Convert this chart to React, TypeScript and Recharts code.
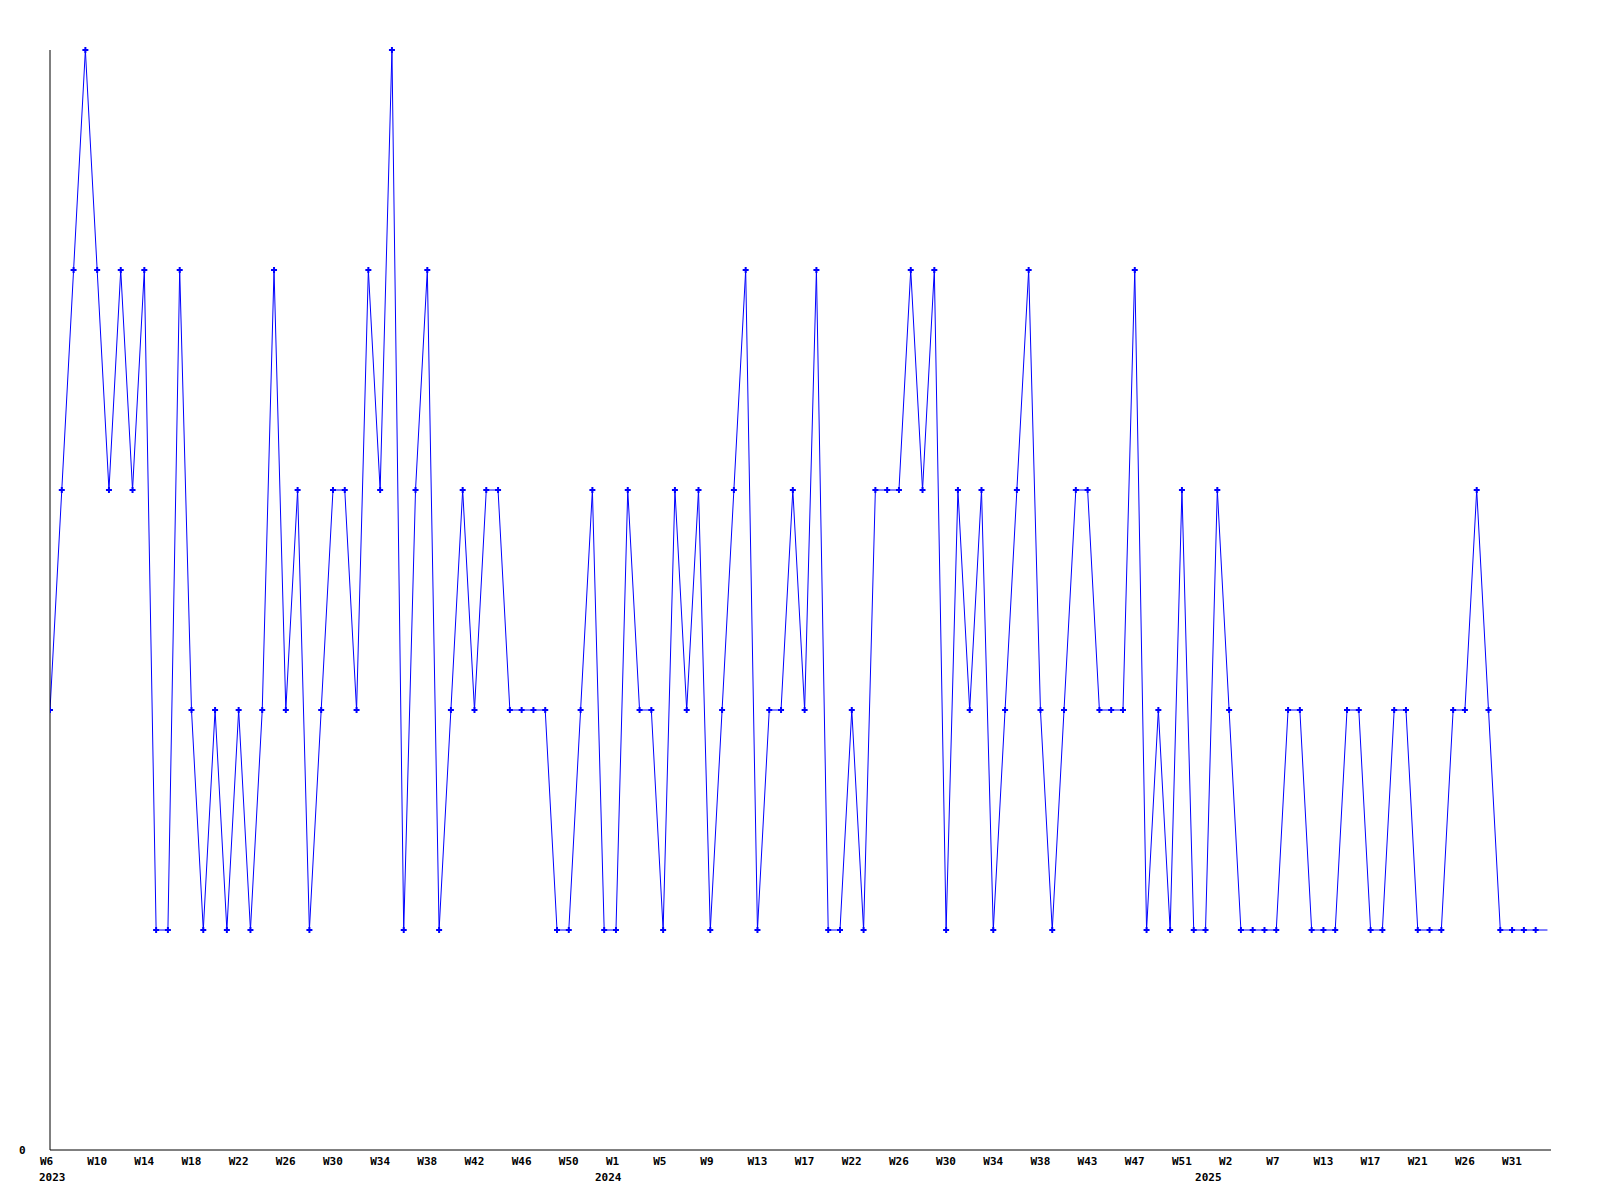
import React from 'react';
import { LineChart, Line, XAxis, YAxis } from 'recharts';

// weekly values, W6 2023 onwards
const VALUES = [
  2, 3, 4, 5, 4, 3, 4, 3, 4, 1,
  1, 4, 2, 1, 2, 1, 2, 1, 2, 4,
  2, 3, 1, 2, 3, 3, 2, 4, 3, 5,
  1, 3, 4, 1, 2, 3, 2, 3, 3, 2,
  2, 2, 2, 1, 1, 2, 3, 1, 1, 3,
  2, 2, 1, 3, 2, 3, 1, 2, 3, 4,
  1, 2, 2, 3, 2, 4, 1, 1, 2, 1,
  3, 3, 3, 4, 3, 4, 1, 3, 2, 3,
  1, 2, 3, 4, 2, 1, 2, 3, 3, 2,
  2, 2, 4, 1, 2, 1, 3, 1, 1, 3,
  2, 1, 1, 1, 1, 2, 2, 1, 1, 1,
  2, 2, 1, 1, 2, 2, 1, 1, 1, 2,
  2, 3, 2, 1, 1, 1, 1,
];
// the line runs on past the last marked week to the edge
const TRAILING = 1;

const TICK_LABELS = [
  'W6', 'W10', 'W14', 'W18', 'W22', 'W26', 'W30', 'W34', 'W38', 'W42', 'W46', 'W50',
  'W1', 'W5', 'W9', 'W13', 'W17', 'W22', 'W26', 'W30', 'W34', 'W38', 'W43', 'W47', 'W51',
  'W2', 'W7', 'W13', 'W17', 'W21', 'W26', 'W31',
];
const TICK_STEP = 4;
const YEARS: Record<number, string> = { 0: '2023', 12: '2024', 25: '2025' };
const YEAR_DX: Record<number, number> = { 0: -11, 12: -21, 25: -34 };

const data = [...VALUES, TRAILING].map((v, i) => ({ i, v }));
const ticks = TICK_LABELS.map((_, k) => k * TICK_STEP);

const FONT = '"DejaVu Sans Mono", monospace';

function WeekTick(props: any) {
  const { x, y, payload } = props;
  const k = Math.round(payload.value / TICK_STEP);
  const year = YEARS[k];
  return (
    <g>
      <text x={x - 10} y={y + 7} textAnchor="start" fontFamily={FONT} fontWeight="bold" fontSize={11} fill="#000">
        {TICK_LABELS[k]}
      </text>
      {year && (
        <text x={x + YEAR_DX[k]} y={y + 23} textAnchor="start" fontFamily={FONT} fontWeight="bold" fontSize={11} fill="#000">
          {year}
        </text>
      )}
    </g>
  );
}

function ZeroTick(props: any) {
  const { y, payload } = props;
  return (
    <text x={19} y={y + 4} textAnchor="start" fontFamily={FONT} fontWeight="bold" fontSize={11} fill="#000">
      {payload.value}
    </text>
  );
}

function Cross(props: any) {
  const { cx, cy, index } = props;
  if (index >= VALUES.length || cx == null) return <g key={index} />;
  return (
    <path
      key={index}
      d={`M${cx - 3},${cy}H${cx + 3}M${cx},${cy - 3}V${cy + 3}`}
      stroke="#0000ff"
      strokeWidth={2}
      fill="none"
    />
  );
}

export default function App() {
  return (
    <div style={{ position: 'absolute', left: 0, top: 0, width: 1600, height: 1200, background: '#fff' }}>
      <LineChart width={1600} height={1200} data={data} margin={{ top: 50, right: 49, bottom: 0, left: 0 }}>
        <XAxis
          dataKey="i"
          type="number"
          domain={[0, 127.3]}
          allowDataOverflow
          ticks={ticks}
          interval={0}
          tickLine={false}
          axisLine={{ stroke: '#000', strokeWidth: 1 }}
          tick={<WeekTick />}
          height={50}
        />
        <YAxis
          type="number"
          domain={[0, 5]}
          ticks={[0]}
          tickLine={false}
          axisLine={{ stroke: '#000', strokeWidth: 1 }}
          tick={<ZeroTick />}
          width={50}
        />
        <Line
          dataKey="v"
          type="linear"
          stroke="#0000ff"
          strokeWidth={1}
          dot={<Cross />}
          activeDot={false}
          isAnimationActive={false}
        />
      </LineChart>
    </div>
  );
}
